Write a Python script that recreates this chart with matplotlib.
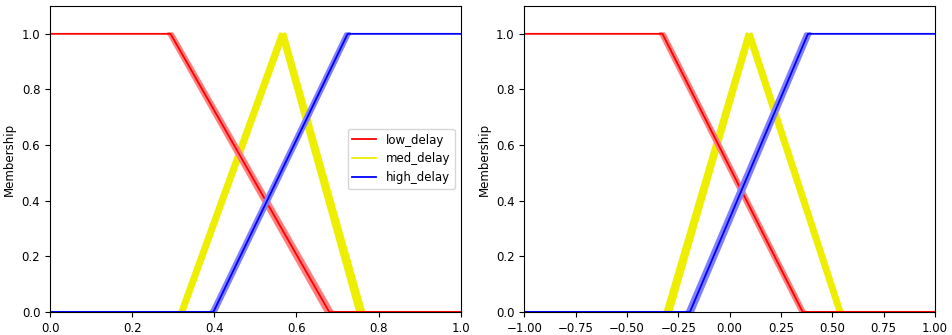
import numpy as np
import matplotlib
matplotlib.use("Agg")
import matplotlib.pyplot as plt

# membership set names and colours
names = ["low_delay", "med_delay", "high_delay"]
colors = ["red", "#eeee00", "blue"]
band_colors = ["#ff8080", "#eeee00", "#8080ff"]

# left universe [0, 1]: breakpoints for the two edges of each band
left_x = [0.0, 1.0]
left_lo = {
    "low_delay":  [0.0, 0.0, 0.289, 0.672],
    "med_delay":  [0.316, 0.561, 0.749],
    "high_delay": [0.393, 0.720, 1.0, 1.0],
}
left_hi = {
    "low_delay":  [0.0, 0.0, 0.298, 0.687],
    "med_delay":  [0.326, 0.572, 0.764],
    "high_delay": [0.403, 0.729, 1.0, 1.0],
}

# right universe [-1, 1]
right_x = [-1.0, 1.0]
right_lo = {
    "low_delay":  [-1.0, -1.0, -0.336, 0.346],
    "med_delay":  [-0.314, 0.085, 0.528],
    "high_delay": [-0.206, 0.370, 1.0, 1.0],
}
right_hi = {
    "low_delay":  [-1.0, -1.0, -0.318, 0.364],
    "med_delay":  [-0.286, 0.106, 0.548],
    "high_delay": [-0.180, 0.392, 1.0, 1.0],
}

plt.rcParams.update({"font.size": 8.5, "axes.linewidth": 0.8})


def mf(x, p):
    # triangle (3 pts) or trapezoid (4 pts)
    if len(p) == 3:
        xp, fp = p, [0, 1, 0]
    else:
        a, b, c, d = p
        if a == b:
            xp, fp = [b, c, d], [1, 1, 0]
        elif c == d:
            xp, fp = [a, b, c], [0, 1, 1]
        else:
            xp, fp = p, [0, 1, 1, 0]
    return np.interp(x, xp, fp)


fig, axes = plt.subplots(1, 2, figsize=(9.53, 3.35), dpi=100)
fig.subplots_adjust(left=0.0525, right=0.981, bottom=0.069, top=0.982, wspace=0.155)

panels = [(axes[0], left_x, left_lo, left_hi), (axes[1], right_x, right_lo, right_hi)]
order = [1, 0, 2]  # yellow under red under blue

for ax, rng, lo, hi in panels:
    x = np.linspace(rng[0], rng[1], 4001)
    for i in order:
        n = names[i]
        y1 = mf(x, lo[n])
        y2 = mf(x, hi[n])
        ax.fill_between(x, y1, y2, color=band_colors[i], linewidth=0)
        # edges only on the sloped part
        slope = (y1 != y2) | ((y1 > 0) & (y1 < 1))
        ax.plot(x, np.where(slope, y1, np.nan), color=band_colors[i], lw=2.2)
        ax.plot(x, np.where(slope, y2, np.nan), color=band_colors[i], lw=2.2)
        mid = mf(x, [(a + b) / 2 for a, b in zip(lo[n], hi[n])])
        ax.plot(x, mid, color=colors[i], lw=1.3, label=n)
    ax.set_xlim(rng)
    ax.set_ylim(0, 1.1)
    ax.set_ylabel("Membership")
    ax.set_yticks([0.0, 0.2, 0.4, 0.6, 0.8, 1.0])

lab = {l.get_label(): l for l in axes[0].get_lines()}
axes[0].legend([lab[n] for n in names], names, loc="center right")

fig.savefig("out.png", dpi=100)
